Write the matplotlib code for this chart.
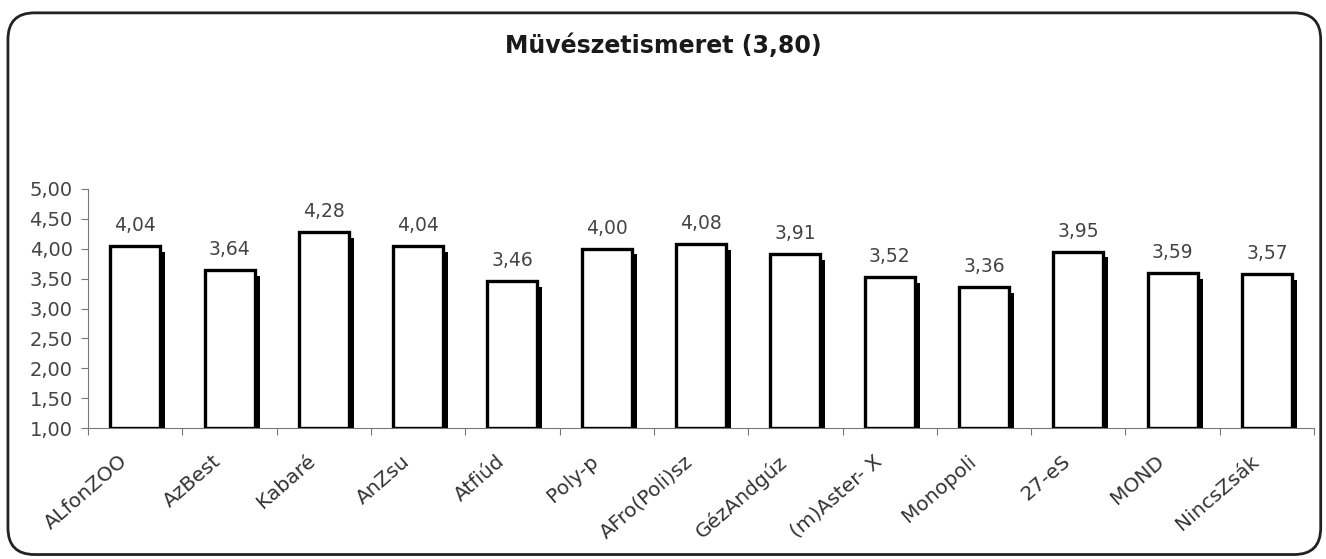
import matplotlib.pyplot as plt
import matplotlib.patheffects as pe
import matplotlib.transforms as mtransforms
from matplotlib.patches import FancyBboxPatch
import numpy as np

plt.rcParams['font.family'] = ['DejaVu Sans']

nevek = ["ALfonZOO", "AzBest", "Kabaré", "AnZsu", "Atfiúd", "Poly-p", "AFro(Poli)sz",
         "GézAndgúz", "(m)Aster- X", "Monopoli", "27-eS", "MOND", "NincsZsák"]
ertekek = [4.04, 3.64, 4.28, 4.04, 3.46, 4.00, 4.08, 3.91, 3.52, 3.36, 3.95, 3.59, 3.57]
cim = "Müvészetismeret (3,80)"
y_ticks = [1.0, 1.5, 2.0, 2.5, 3.0, 3.5, 4.0, 4.5, 5.0]

fig = plt.figure(figsize=(13.26, 5.59), dpi=100)

# lekerekített keret
keret = FancyBboxPatch((0.006, 0.008), 0.99, 0.969,
                       boxstyle="round,pad=0,rounding_size=0.02",
                       transform=fig.transFigure, facecolor="white",
                       edgecolor="#222222", linewidth=2.0, mutation_aspect=1326/559,
                       zorder=-5)
fig.patches.append(keret)

ax = fig.add_axes([0.0664, 0.2343, 0.9246, 0.4276])
ax.set_facecolor("none")

x = np.arange(len(nevek))
arnyek = [pe.SimplePatchShadow(offset=(3.6, -4), shadow_rgbFace="black", alpha=1.0), pe.Normal()]
ax.bar(x, np.array(ertekek) - 1.0, bottom=1.0, width=0.53, color="white",
       edgecolor="black", linewidth=2.4, path_effects=arnyek, zorder=3)

for xi, v in zip(x, ertekek):
    ax.annotate(f"{v:.2f}".replace(".", ","), (xi, v), xytext=(0, 8), textcoords="offset points",
                ha="center", va="bottom", fontsize=13.5, color="#444444")

ax.set_xlim(-0.5, len(nevek) - 0.5)
ax.set_ylim(1.0, 5.0)
ax.set_yticks(y_ticks)
ax.set_yticklabels([f"{t:.2f}".replace(".", ",") for t in y_ticks], fontsize=14, color="#444444")

ax.set_xticks(np.arange(len(nevek) + 1) - 0.5)
ax.set_xticklabels([])
ax.set_xticks(x, minor=True)
ax.set_xticklabels(nevek, minor=True, rotation=41, ha="right", rotation_mode="anchor",
                   fontsize=14.5, color="#333333")
ax.tick_params(axis="x", which="minor", length=0, pad=17)
ax.tick_params(axis="x", which="major", length=5, color="#777777", direction="out")
ax.tick_params(axis="y", length=5, color="#777777", direction="out", pad=6)

eltolas = mtransforms.ScaledTranslation(-0.17, 0, fig.dpi_scale_trans)
for lab in ax.get_xticklabels(minor=True):
    lab.set_transform(lab.get_transform() + eltolas)

for s in ["top", "right"]:
    ax.spines[s].set_visible(False)
ax.spines["left"].set_color("#777777")
ax.spines["bottom"].set_color("#777777")

fig.text(0.5, 0.918, cim, ha="center", va="center", fontsize=17, fontweight="bold",
         color="#1a1a1a")

fig.savefig("out.png", dpi=100)
